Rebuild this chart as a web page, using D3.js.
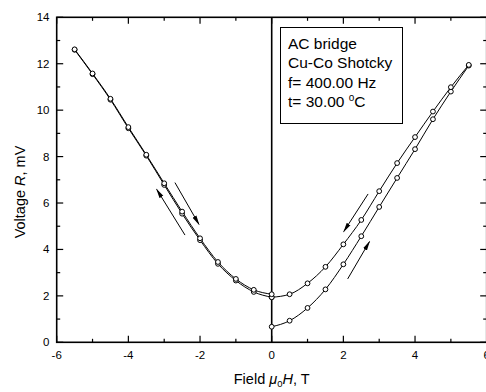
<!DOCTYPE html>
<html>
<head>
<meta charset="utf-8">
<script src="https://cdn.jsdelivr.net/npm/d3@7"></script>
<style>
  body { margin: 0; background: #fff; }
  svg { display: block; font-family: Arial, "Liberation Sans", sans-serif; }
</style>
</head>
<body>
<div id="chart-area"></div>
<script>
// field values (T) and measured voltage (mV) per sweep branch
var hPos = [0, 0.5, 1, 1.5, 2, 2.5, 3, 3.5, 4, 4.5, 5, 5.5];
var hNeg = [0, -0.5, -1, -1.5, -2, -2.5, -3, -3.5, -4, -4.5, -5, -5.5];
var rUp      = [0.67, 0.93, 1.48, 2.28, 3.36, 4.57, 5.83, 7.08, 8.32, 9.61, 10.80, 11.92];
var rDown    = [1.94, 2.07, 2.54, 3.25, 4.22, 5.27, 6.51, 7.72, 8.84, 9.94, 10.99, 11.95];
var rNegOut  = [1.94, 2.17, 2.66, 3.38, 4.40, 5.54, 6.78, 8.04, 9.22, 10.45, 11.55, 12.60];
var rNegBack = [2.07, 2.26, 2.73, 3.46, 4.48, 5.63, 6.85, 8.08, 9.27, 10.49, 11.58, 12.62];

var xTicks = [-6, -4, -2, 0, 2, 4, 6];
var yTicks = [0, 2, 4, 6, 8, 10, 12, 14];
var legendLines = ["AC bridge", "Cu-Co Shotcky", "f= 400.00 Hz", "t= 30.00 "];

// sweep direction arrows [x1, y1, x2, y2] in data units, head at the end
var arrows = [
  [-2.42, 4.62, -3.21, 6.59],
  [-2.70, 6.88, -2.03, 5.08],
  [2.69, 6.39, 2.01, 4.77],
  [2.12, 2.73, 2.73, 4.34]
];

var branches = [
  hPos.map(function(h, i) { return [h, rUp[i]]; }),
  hPos.map(function(h, i) { return [h, rDown[i]]; }),
  hNeg.map(function(h, i) { return [h, rNegOut[i]]; }),
  hNeg.map(function(h, i) { return [h, rNegBack[i]]; })
];

var svg = d3.select("#chart-area").append("svg")
            .attr("width", 486)
            .attr("height", 392);

var x = d3.scaleLinear().domain([-6, 6]).range([56.7, 486.7]);
var y = d3.scaleLinear().domain([0, 14]).range([342.3, 17.3]);

svg.append("defs").append("marker")
   .attr("id", "head")
   .attr("viewBox", "0 0 10 6")
   .attr("refX", 9).attr("refY", 3)
   .attr("markerWidth", 10).attr("markerHeight", 6)
   .attr("markerUnits", "userSpaceOnUse")
   .attr("orient", "auto")
   .append("path").attr("d", "M0,0.8L10,3L0,5.2Z").attr("fill", "#000");

// inside ticks on all four sides
var minorX = d3.range(-6, 7, 1), minorY = d3.range(0, 15, 1);
function tickLen(v) { return v % 2 === 0 ? 6.5 : 3.5; }

var g = svg.append("g").attr("stroke", "#000").attr("stroke-width", 1.2);
minorX.forEach(function(v) {
  g.append("line").attr("x1", x(v)).attr("x2", x(v)).attr("y1", y(0)).attr("y2", y(0) - tickLen(v));
  g.append("line").attr("x1", x(v)).attr("x2", x(v)).attr("y1", y(14)).attr("y2", y(14) + tickLen(v));
});
minorY.forEach(function(v) {
  g.append("line").attr("y1", y(v)).attr("y2", y(v)).attr("x1", x(-6)).attr("x2", x(-6) + tickLen(v));
  g.append("line").attr("y1", y(v)).attr("y2", y(v)).attr("x1", x(6)).attr("x2", x(6) - tickLen(v));
});

svg.append("rect")
   .attr("x", x(-6)).attr("y", y(14))
   .attr("width", x(6) - x(-6)).attr("height", y(0) - y(14))
   .attr("fill", "none").attr("stroke", "#000").attr("stroke-width", 1.6);

// zero field line
svg.append("line")
   .attr("x1", x(0)).attr("x2", x(0)).attr("y1", y(0)).attr("y2", y(14))
   .attr("stroke", "#000").attr("stroke-width", 1.6);

svg.selectAll(".xlab").data(xTicks).enter().append("text")
   .attr("x", function(d) { return x(d); })
   .attr("y", 359)
   .attr("text-anchor", "middle")
   .attr("font-size", 11.5)
   .text(function(d) { return d; });

svg.selectAll(".ylab").data(yTicks).enter().append("text")
   .attr("x", 49.5)
   .attr("y", function(d) { return y(d) + 4; })
   .attr("text-anchor", "end")
   .attr("font-size", 11.5)
   .text(function(d) { return d; });

var xl = svg.append("text").attr("x", x(0)).attr("y", 384)
            .attr("text-anchor", "middle").attr("font-size", 14.5);
xl.append("tspan").text("Field ");
xl.append("tspan").attr("font-style", "italic").text("\u03bc");
xl.append("tspan").attr("font-size", 9.5).attr("dy", 3).text("0");
xl.append("tspan").attr("font-style", "italic").attr("dy", -3).text("H");
xl.append("tspan").text(", T");

var yl = svg.append("text")
            .attr("transform", "translate(25,192) rotate(-90)")
            .attr("text-anchor", "middle").attr("font-size", 14.5);
yl.append("tspan").text("Voltage ");
yl.append("tspan").attr("font-style", "italic").text("R");
yl.append("tspan").text(", mV");

var line = d3.line()
             .x(function(d) { return x(d[0]); })
             .y(function(d) { return y(d[1]); })
             .curve(d3.curveMonotoneX);

svg.selectAll(".branch").data(branches).enter().append("path")
   .attr("d", line)
   .attr("fill", "none").attr("stroke", "#000").attr("stroke-width", 1);

branches.forEach(function(b) {
  svg.selectAll(null).data(b).enter().append("circle")
     .attr("cx", function(d) { return x(d[0]); })
     .attr("cy", function(d) { return y(d[1]); })
     .attr("r", 2.4)
     .attr("fill", "#fff").attr("stroke", "#000").attr("stroke-width", 1);
});

svg.selectAll(".arrow").data(arrows).enter().append("line")
   .attr("x1", function(d) { return x(d[0]); })
   .attr("y1", function(d) { return y(d[1]); })
   .attr("x2", function(d) { return x(d[2]); })
   .attr("y2", function(d) { return y(d[3]); })
   .attr("stroke", "#000").attr("stroke-width", 1)
   .attr("marker-end", "url(#head)");

// legend box
svg.append("rect")
   .attr("x", 280.5).attr("y", 27.5).attr("width", 122).attr("height", 96)
   .attr("fill", "#fff").attr("stroke", "#000").attr("stroke-width", 1);

var lt = svg.selectAll(".leg").data(legendLines).enter().append("text")
            .attr("x", 288)
            .attr("y", function(d, i) { return 49 + i * 19.4; })
            .attr("font-size", 15.5)
            .text(function(d) { return d; });
d3.select(lt.nodes()[3]).append("tspan").attr("font-size", 10).attr("dy", -6).text("o");
d3.select(lt.nodes()[3]).append("tspan").attr("dy", 6).text("C");
</script>
</body>
</html>
